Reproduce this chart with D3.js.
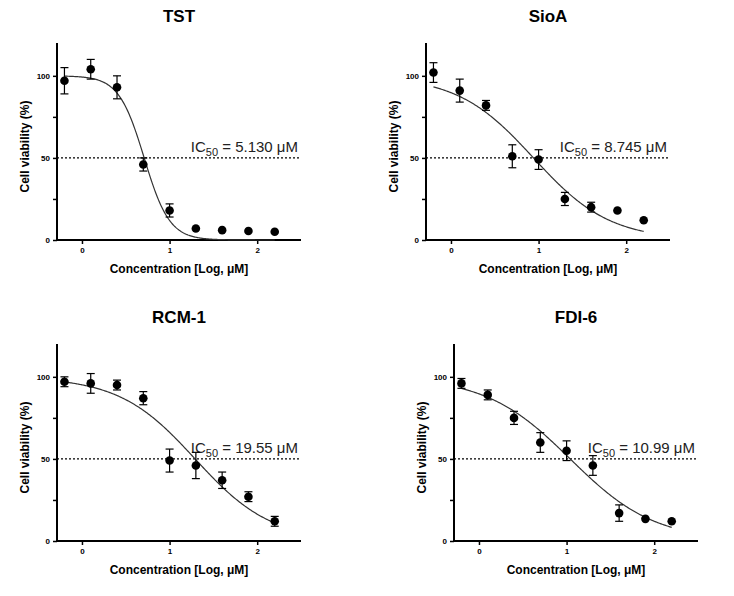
<!DOCTYPE html>
<html><head><meta charset="utf-8">
<script src="https://cdn.jsdelivr.net/npm/d3@7"></script>
<style>body{margin:0;background:#fff;font-family:Arial,"Liberation Sans",sans-serif}</style>
</head><body><div id="chart"></div>
<script>
var xs = [-0.2, 0.1, 0.4, 0.7, 1.0, 1.3, 1.6, 1.9, 2.2];
var names = ["TST", "SioA", "RCM-1", "FDI-6"];
var means = [
  [97, 104, 93, 46, 18, 7, 6, 5.5, 5],
  [102, 91, 82, 51, 49, 25, 20, 18, 12],
  [97, 96, 95, 87, 49, 46, 37, 27, 12],
  [96, 89, 75, 60, 55, 46, 17, 13.5, 12]
];
var errs = [
  [8, 6, 7, 4, 4, 0, 0, 0, 0],
  [6, 7, 3, 7, 6, 4, 3, 0, 0],
  [3, 6, 3, 4, 7, 8, 5, 3, 3],
  [3, 3, 4, 6, 6, 6, 5, 0, 0]
];
var ic50 = ["5.130", "8.745", "19.55", "10.99"];
var hill = [3, 1, 1, 0.9];
var xTicks = [0, 1, 2];
var yTicks = [0, 25, 50, 75, 100];

var svg = d3.select("#chart").append("svg").attr("width", 734).attr("height", 596);
var panels = [{l: 57, b: 240}, {l: 426, b: 240}, {l: 57, b: 541}, {l: 454, b: 541}];
var W = 244, H = 197;

names.forEach(function (name, i) {
  var p = panels[i];
  var g = svg.append("g").attr("transform", "translate(" + p.l + "," + (p.b - H) + ")");
  var x = d3.scaleLinear().domain([-0.285, 2.5]).range([0, W]);
  var y = d3.scaleLinear().domain([0, 120]).range([H, 0]);

  g.append("text").attr("x", W / 2).attr("y", -21).attr("text-anchor", "middle")
    .style("font-weight", "bold").style("font-size", "17px").text(name);

  var xa = g.append("g").attr("transform", "translate(0," + H + ")")
    .call(d3.axisBottom(x).tickValues(xTicks).tickSize(4).tickFormat(d3.format("d")));
  var ya = g.append("g")
    .call(d3.axisLeft(y).tickValues(yTicks).tickSize(4).tickFormat(function (d) { return d % 50 === 0 ? d : ""; }));
  [xa, ya].forEach(function (a) {
    a.select(".domain").attr("stroke-width", 2).attr("d", a === xa ? "M0,0H" + W : "M0,0V" + H);
    a.selectAll(".tick line").attr("stroke-width", 1.5);
    a.selectAll("text").style("font-size", "8px").style("font-weight", "bold").attr("fill", "#000");
  });
  g.append("text").attr("x", W / 2).attr("y", H + 33).attr("text-anchor", "middle")
    .style("font-weight", "bold").style("font-size", "12px").text("Concentration [Log, μM]");
  g.append("text").attr("transform", "rotate(-90)").attr("x", -H / 2 - 5).attr("y", -28)
    .attr("text-anchor", "middle").style("font-weight", "bold").style("font-size", "12px")
    .text("Cell viability (%)");

  g.append("line").attr("x1", 0).attr("x2", W).attr("y1", y(50)).attr("y2", y(50))
    .attr("stroke", "#000").attr("stroke-width", 1.2).attr("stroke-dasharray", "2,2");
  var lab = g.append("text").attr("x", W - 3).attr("y", y(50) - 6).attr("text-anchor", "end")
    .style("font-size", "15px").attr("fill", "#222");
  lab.append("tspan").text("IC");
  lab.append("tspan").attr("dy", 4).style("font-size", "11px").text("50");
  lab.append("tspan").attr("dy", -4).text(" = " + ic50[i] + " μM");

  var logIC = Math.log10(+ic50[i]);
  var cx = d3.range(0, 241).map(function (k) { return xs[0] + k * (xs[8] - xs[0]) / 240; });
  g.append("path").datum(cx).attr("fill", "none").attr("stroke", "#333").attr("stroke-width", 1.2)
    .attr("d", d3.line().x(function (d) { return x(d); })
      .y(function (d) { return y(100 / (1 + Math.pow(10, (d - logIC) * hill[i]))); }));

  var pts = xs.map(function (v, k) { return {x: v, m: means[i][k], e: errs[i][k]}; });
  var eb = g.selectAll(".eb").data(pts.filter(function (d) { return d.e > 0; })).enter().append("g")
    .attr("stroke", "#000").attr("stroke-width", 1.2);
  eb.append("line").attr("x1", function (d) { return x(d.x); }).attr("x2", function (d) { return x(d.x); })
    .attr("y1", function (d) { return y(d.m - d.e); }).attr("y2", function (d) { return y(d.m + d.e); });
  [-1, 1].forEach(function (s) {
    eb.append("line").attr("x1", function (d) { return x(d.x) - 4; }).attr("x2", function (d) { return x(d.x) + 4; })
      .attr("y1", function (d) { return y(d.m + s * d.e); }).attr("y2", function (d) { return y(d.m + s * d.e); });
  });
  g.selectAll(".pt").data(pts).enter().append("circle")
    .attr("cx", function (d) { return x(d.x); }).attr("cy", function (d) { return y(d.m); })
    .attr("r", 4.3).attr("fill", "#000");
});
</script></body></html>
